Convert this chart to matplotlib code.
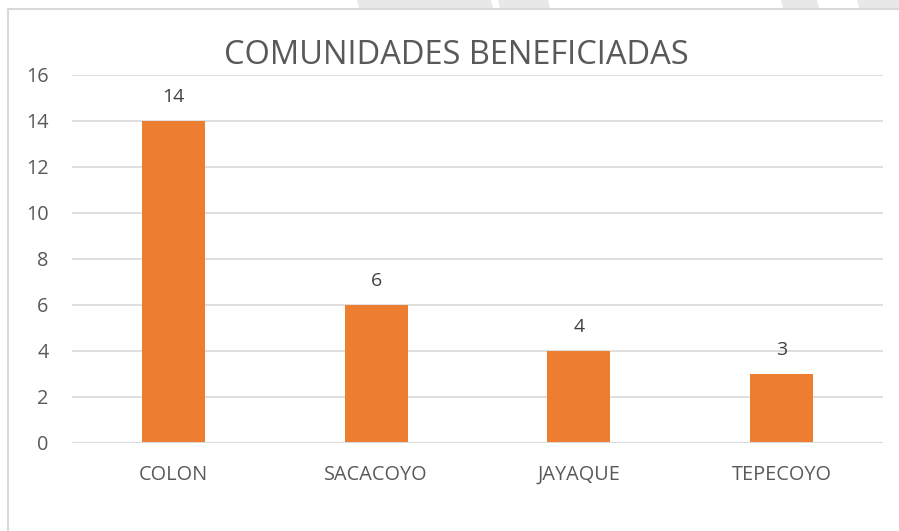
import matplotlib
matplotlib.use("Agg")
import matplotlib.pyplot as plt
from matplotlib.lines import Line2D
from matplotlib.patches import Polygon

categories = ["COLON", "SACACOYO", "JAYAQUE", "TEPECOYO"]
values = [14, 6, 4, 3]
yticks = [0, 2, 4, 6, 8, 10, 12, 14, 16]
title = "COMUNIDADES BENEFICIADAS"

W, H = 899, 531
fig = plt.figure(figsize=(W / 100, H / 100), dpi=100)
fig.patch.set_facecolor("white")
plt.rcParams['font.family'] = ['Open Sans', 'DejaVu Sans']

text_color = "#595959"
grid_color = "#d9d9d9"
bar_color = "#ED7D31"

# decorative page stripes above the chart frame (pixel spans)
stripes = [(357, 491), (498, 548), (781, 817), (857, 905)]
for a, b in stripes:
    pts = [(a / W, 1), (b / W, 1), ((b + 2) / W, 1 - 8 / H), ((a + 2) / W, 1 - 8 / H)]
    fig.add_artist(Polygon(pts, closed=True, transform=fig.transFigure,
                           facecolor="#e8e8e8", edgecolor="none"))

# plot area in pixels
x0, x1 = 72, 883
y0, y1 = 443, 75
ax = fig.add_axes([x0 / W, 1 - y0 / H, (x1 - x0) / W, (y0 - y1) / H])
ax.set_xlim(-0.5, len(categories) - 0.5)
ax.set_ylim(0, 16)
xs = list(range(len(categories)))
ax.bar(xs, values, width=0.31, color=bar_color, zorder=3)
for x, v in zip(xs, values):
    ax.annotate(str(v), (x, v), xytext=(0, 17.5), textcoords="offset points",
                ha="center", va="center", fontsize=14, color="#404040")
ax.set_yticks(yticks)
ax.set_yticklabels([str(t) for t in yticks])
ax.set_xticks(xs)
ax.set_xticklabels(categories)
ax.tick_params(axis="both", length=0, labelsize=14.3, colors=text_color)
ax.tick_params(axis="x", pad=15.5)
ax.tick_params(axis="y", pad=17)
ax.grid(axis="y", color=grid_color, linewidth=1.2, zorder=0)
for s in ax.spines.values():
    s.set_visible(False)
ax.axhline(0, color=grid_color, linewidth=1.5, zorder=4)

fig.text((222 + 690) / 2 / W, 1 - 55 / H, title, ha="center", va="center",
         fontsize=23.5, color=text_color)

# chart border
fig.add_artist(Line2D([8 / W, 8 / W], [0, 1 - 9 / H], color="#d9d9d9", lw=1.5,
                      transform=fig.transFigure))
fig.add_artist(Line2D([8 / W, 1], [1 - 9 / H, 1 - 9 / H], color="#d9d9d9", lw=1.5,
                      transform=fig.transFigure))

fig.savefig("out.png", dpi=100)
